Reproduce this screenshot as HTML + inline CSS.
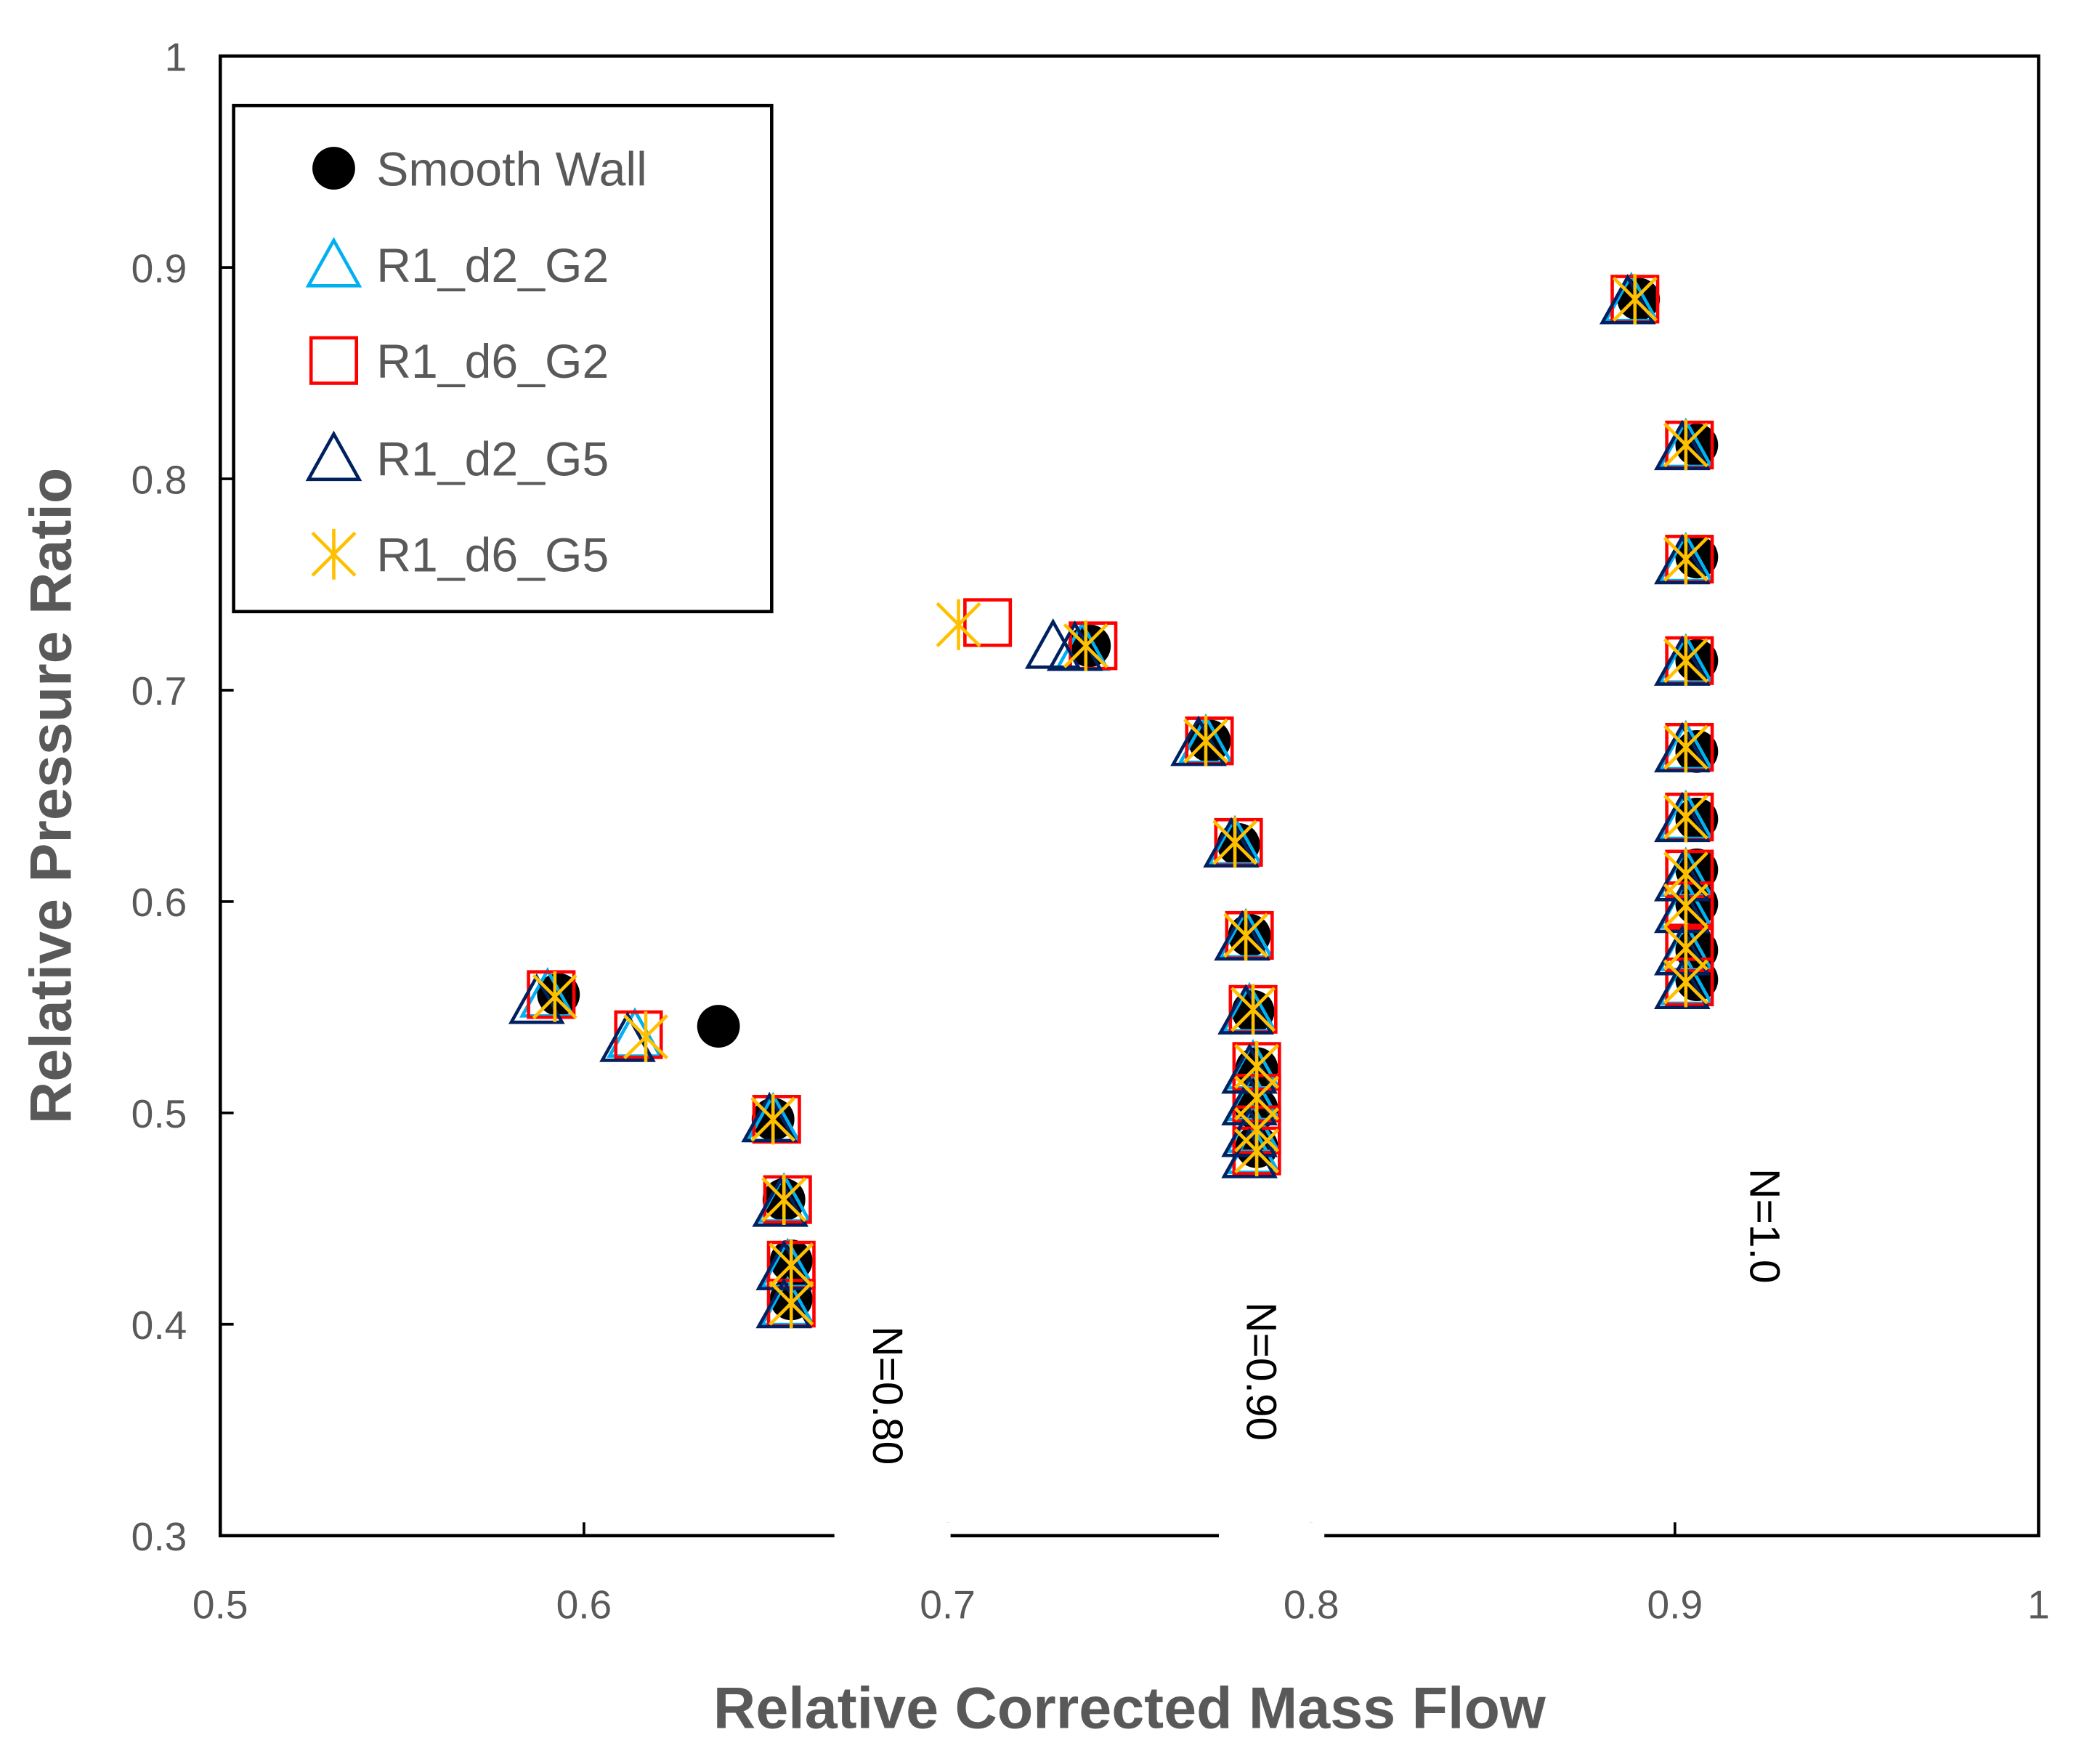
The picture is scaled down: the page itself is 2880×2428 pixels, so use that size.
<!DOCTYPE html>
<html><head><meta charset="utf-8"><style>
html,body{margin:0;padding:0;background:#fff}
svg{display:block}
text{font-family:"Liberation Sans",sans-serif}
</style></head><body>
<svg id="chart" width="2880" height="2428" viewBox="0 0 1567 1321" preserveAspectRatio="none" xmlns="http://www.w3.org/2000/svg">
<rect x="165" y="42" width="1362" height="1108" fill="#fff" stroke="#000" stroke-width="2.5"/>
<g id="ticks"></g>
<g id="marks"></g>
<g>
<rect x="625" y="1140" width="87" height="20" fill="#fff"/>
<rect x="913" y="1140" width="79" height="20" fill="#fff"/>
<text transform="translate(654,1045) rotate(90)" font-size="32" text-anchor="middle">N=0.80</text>
<text transform="translate(934,1027) rotate(90)" font-size="32" text-anchor="middle">N=0.90</text>
<text transform="translate(1311,918) rotate(90)" font-size="32" text-anchor="middle">N=1.0</text>
</g>
<text x="846" y="1294" font-size="44" font-weight="bold" fill="#595959" text-anchor="middle">Relative Corrected Mass Flow</text>
<text transform="translate(53,596) rotate(-90)" font-size="44" font-weight="bold" fill="#595959" text-anchor="middle">Relative Pressure Ratio</text>
<g>
<rect x="175" y="79" width="403" height="379" fill="#fff" stroke="#000" stroke-width="2.5"/>
<g id="legend-items"></g>
</g>
</svg>
<script>
const xTicks=[0.5,0.6,0.7,0.8,0.9,1];
const xTickLabels=["0.5","0.6","0.7","0.8","0.9","1"];
const yTicks=[0.3,0.4,0.5,0.6,0.7,0.8,0.9,1];
const yTickLabels=["0.3","0.4","0.5","0.6","0.7","0.8","0.9","1"];
const seriesNames=["Smooth Wall","R1_d2_G2","R1_d6_G2","R1_d2_G5","R1_d6_G5"];
const smoothX=[0.593,0.637,0.652,0.655,0.657,0.657,0.739,0.772,0.780,0.783,0.784,0.785,0.785,0.785,0.890,0.906,0.906,0.906,0.906,0.906,0.906,0.906,0.906,0.906];
const smoothY=[0.556,0.541,0.497,0.459,0.430,0.412,0.721,0.676,0.627,0.584,0.548,0.521,0.502,0.484,0.885,0.816,0.763,0.714,0.671,0.639,0.615,0.599,0.577,0.563];
const d2g2X=[0.590,0.614,0.652,0.655,0.656,0.656,0.737,0.771,0.779,0.782,0.783,0.784,0.784,0.784,0.784,0.888,0.903,0.903,0.903,0.903,0.903,0.903,0.903,0.903,0.903];
const d2g2Y=[0.556,0.537,0.497,0.459,0.428,0.410,0.720,0.676,0.628,0.584,0.549,0.522,0.507,0.492,0.482,0.885,0.816,0.762,0.714,0.673,0.640,0.613,0.598,0.578,0.562];
const d6g2X=[0.591,0.615,0.653,0.656,0.657,0.657,0.711,0.740,0.772,0.780,0.783,0.784,0.785,0.785,0.785,0.785,0.889,0.904,0.904,0.904,0.904,0.904,0.904,0.904,0.904,0.904];
const d6g2Y=[0.556,0.537,0.497,0.459,0.428,0.410,0.732,0.721,0.676,0.628,0.584,0.549,0.522,0.507,0.492,0.482,0.885,0.816,0.762,0.714,0.673,0.640,0.613,0.598,0.578,0.562];
const d2g5X=[0.587,0.612,0.651,0.654,0.655,0.655,0.729,0.735,0.769,0.778,0.781,0.782,0.783,0.783,0.783,0.783,0.887,0.902,0.902,0.902,0.902,0.902,0.902,0.902,0.902,0.902];
const d2g5Y=[0.553,0.535,0.497,0.457,0.427,0.409,0.721,0.720,0.675,0.627,0.583,0.548,0.520,0.505,0.490,0.480,0.884,0.815,0.761,0.713,0.672,0.639,0.611,0.596,0.576,0.560];
const d6g5X=[0.592,0.617,0.652,0.655,0.657,0.657,0.703,0.738,0.771,0.779,0.782,0.784,0.785,0.785,0.785,0.785,0.889,0.903,0.903,0.903,0.903,0.903,0.903,0.903,0.903,0.903];
const d6g5Y=[0.555,0.536,0.497,0.459,0.428,0.410,0.731,0.721,0.676,0.628,0.584,0.549,0.522,0.507,0.492,0.482,0.885,0.816,0.762,0.714,0.673,0.640,0.613,0.598,0.578,0.562];

const NS="http://www.w3.org/2000/svg";
const sx=v=>165+(v-0.5)/0.5*1362;
const sy=v=>1150-(v-0.3)/0.7*1108;
function mk(tag,attrs,parent){const e=document.createElementNS(NS,tag);for(const k in attrs)e.setAttribute(k,attrs[k]);parent.appendChild(e);return e;}
const ticks=document.getElementById('ticks');
xTicks.forEach((v,i)=>{
  const t=mk('text',{x:sx(v),y:1212,'font-size':30,fill:'#595959','text-anchor':'middle'},ticks);
  
  
  t.textContent=xTickLabels[i];
  const l=mk('line',{x1:sx(v),x2:sx(v),y1:1150,y2:1140,stroke:'#000','stroke-width':2},ticks);
  
  
});
yTicks.forEach((v,i)=>{
  const t=mk('text',{x:140,y:sy(v)+11,'font-size':30,fill:'#595959','text-anchor':'end'},ticks);
  
  
  t.textContent=yTickLabels[i];
  const l=mk('line',{x1:165,x2:175,y1:sy(v),y2:sy(v),stroke:'#000','stroke-width':2},ticks);
  
  
});
function marker(type,cx,cy,g){
  if(type===0) return mk('circle',{cx:cx,cy:cy,r:16,fill:'#000'},g);
  if(type===1||type===3){const c=type===1?'#00b0f0':'#002060';
    return mk('polygon',{points:`${cx-19},${cy+16} ${cx+19},${cy+16} ${cx},${cy-18}`,fill:'none',stroke:c,'stroke-width':2.5},g);}
  if(type===2) return mk('rect',{x:cx-17,y:cy-17,width:34,height:34,fill:'none',stroke:'#ff0000','stroke-width':2.5},g);
  return mk('path',{d:`M${cx-16},${cy-16}L${cx+16},${cy+16}M${cx+16},${cy-16}L${cx-16},${cy+16}M${cx},${cy-19}L${cx},${cy+19}`,stroke:'#ffc000','stroke-width':2.5,fill:'none'},g);
}
const allX=[smoothX,d2g2X,d6g2X,d2g5X,d6g5X], allY=[smoothY,d2g2Y,d6g2Y,d2g5Y,d6g5Y];
const slug=["smooth-wall","r1-d2-g2","r1-d6-g2","r1-d2-g5","r1-d6-g5"];
const marks=document.getElementById('marks');
allX.forEach((xs,s)=>{
  const g=mk('g',{},marks);
  
  
  xs.forEach((x,i)=>{
    const m=marker(s,sx(x),sy(allY[s][i]),g);
    
    
  });
});
const leg=document.getElementById('legend-items');
const legY=[126,198,270,343,415];
seriesNames.forEach((n,s)=>{
  const g=mk('g',{},leg);
  
  
  marker(s,250,legY[s],g);
  const t=mk('text',{x:282,y:legY[s]+13,'font-size':36,fill:'#595959'},g);
  t.textContent=n;
});
</script>
</body></html>
